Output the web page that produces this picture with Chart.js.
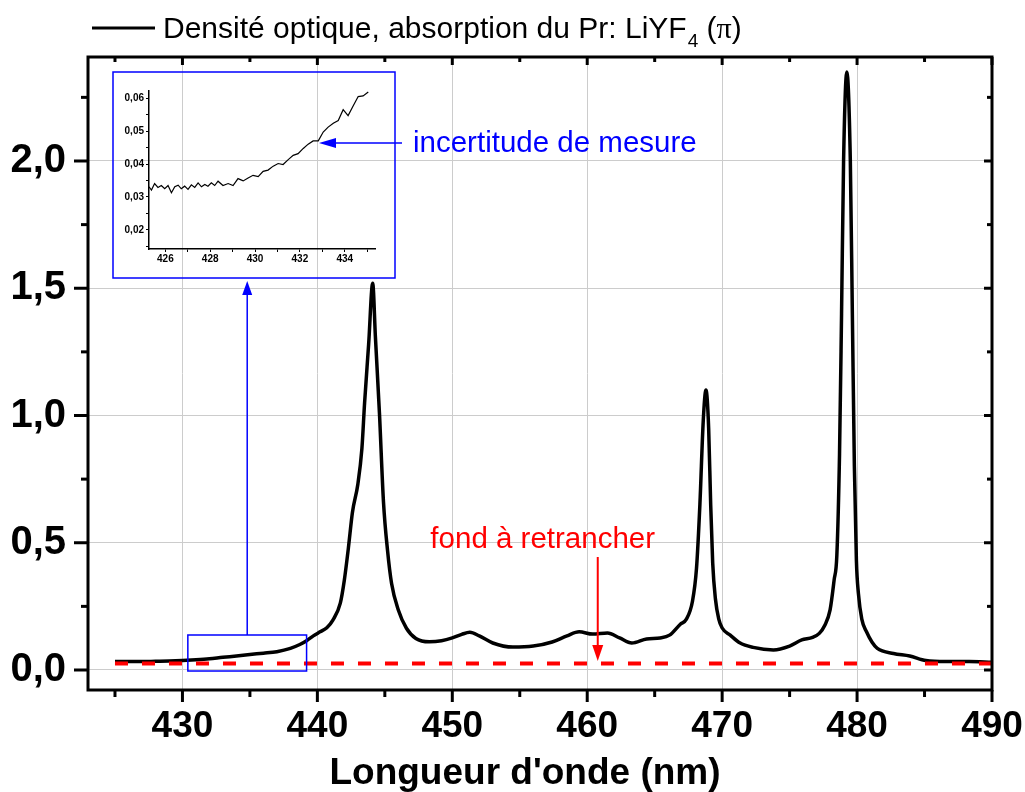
<!DOCTYPE html>
<html>
<head>
<meta charset="utf-8">
<script src="https://cdn.jsdelivr.net/npm/chart.js@4.4.0/dist/chart.umd.min.js"></script>
<style>
  html, body { margin: 0; padding: 0; background: #fff; }
  #wrap { position: relative; width: 1025px; height: 792px; }
  #main { position: absolute; left: 0; top: 0; }
  #insetCanvas { position: absolute; left: 113px; top: 72px; }
</style>
</head>
<body>
<div id="wrap">
  <canvas id="main" width="1025" height="792"></canvas>
  <canvas id="insetCanvas" width="282" height="206"></canvas>
</div>
<script>
// spectre principal (nm / densite optique)
const wavelength = [425.0, 426.0, 427.0, 428.0, 429.0, 430.0, 431.0, 432.0, 433.0, 434.0, 435.0, 436.0, 437.0, 438.0,
  438.7, 439.2, 439.7, 440.2, 440.7, 441.15, 441.7, 442.0, 442.3, 442.6, 443.0, 443.3, 443.5, 443.8, 444.1,
  444.3, 444.6, 444.9, 445.2, 445.5, 446.0, 446.6, 447.3, 448.3, 449.2, 450.0, 450.7, 451.3, 452.0, 453.0,
  454.5, 456.0, 457.4, 458.5, 459.4, 460.4, 461.5, 462.4, 463.3, 464.4, 465.4, 466.1, 466.9, 467.35, 467.8,
  468.1, 468.35, 468.6, 468.8, 469.0, 469.15, 469.3, 469.5, 469.75, 470.0, 470.6, 471.3, 472.3, 473.8, 475.0,
  475.9, 476.7, 477.2, 477.6, 478.0, 478.3, 478.5, 478.7, 478.85, 479.0, 479.24, 479.5, 479.65, 479.8, 479.95,
  480.1, 480.35, 480.7, 481.1, 481.5, 482.7, 483.9, 485.1, 486.6, 488.3, 490.0];
const density = [0.033, 0.033, 0.033, 0.034, 0.035, 0.037, 0.040, 0.044, 0.050, 0.055, 0.061, 0.066, 0.072, 0.085,
  0.100, 0.115, 0.134, 0.150, 0.166, 0.196, 0.263, 0.354, 0.480, 0.620, 0.730, 0.870, 1.050, 1.280, 1.520,
  1.310, 1.010, 0.660, 0.470, 0.340, 0.236, 0.164, 0.124, 0.111, 0.115, 0.126, 0.140, 0.148, 0.134, 0.106,
  0.090, 0.094, 0.110, 0.134, 0.150, 0.141, 0.145, 0.126, 0.106, 0.122, 0.126, 0.137, 0.180, 0.200, 0.270,
  0.400, 0.650, 0.980, 1.100, 0.950, 0.650, 0.420, 0.280, 0.200, 0.165, 0.137, 0.107, 0.089, 0.079, 0.094,
  0.118, 0.128, 0.144, 0.175, 0.236, 0.354, 0.450, 0.850, 1.400, 2.000, 2.350, 2.000, 1.400, 0.800, 0.430,
  0.300, 0.200, 0.150, 0.110, 0.085, 0.065, 0.055, 0.037, 0.033, 0.033, 0.030];

// fond a retrancher
const fondX = [425, 490];
const fondY = [0.026, 0.026];

const xTicks = [430, 440, 450, 460, 470, 480, 490];
const xMinor = [425, 435, 445, 455, 465, 475, 485];
const yTicks = [0, 0.5, 1.0, 1.5, 2.0];
const yMinor = [0.25, 0.75, 1.25, 1.75, 2.25];

// zoom (incertitude de mesure)
const insetWavelength = [425.27, 425.38, 425.52, 425.67, 425.82, 425.97, 426.12, 426.27, 426.42, 426.57, 426.71,
  426.86, 427.01, 427.16, 427.31, 427.46, 427.61, 427.76, 427.90, 428.05, 428.20, 428.35, 428.57, 428.80,
  429.02, 429.24, 429.47, 429.69, 429.91, 430.14, 430.36, 430.58, 430.81, 431.03, 431.25, 431.48, 431.70,
  431.92, 432.15, 432.37, 432.59, 432.82, 433.04, 433.26, 433.49, 433.71, 433.93, 434.15, 434.38, 434.60,
  434.82, 435.05];
const insetDensity = [0.0331, 0.0321, 0.0341, 0.0329, 0.0335, 0.0325, 0.0335, 0.0313, 0.0331, 0.0336, 0.0325,
  0.0333, 0.0323, 0.0337, 0.0329, 0.0343, 0.0331, 0.0338, 0.0333, 0.0343, 0.0335, 0.0348, 0.0335, 0.0341,
  0.0335, 0.0356, 0.0349, 0.0358, 0.0366, 0.0362, 0.0378, 0.0382, 0.0394, 0.0402, 0.0399, 0.0414, 0.0427,
  0.0432, 0.0448, 0.0461, 0.0471, 0.0471, 0.0498, 0.0513, 0.0525, 0.0533, 0.0566, 0.0548, 0.0578, 0.0606,
  0.0608, 0.0620];
const insetXTicks = [426, 428, 430, 432, 434];
const insetXMinor = [427, 429, 431, 433, 435];
const insetYTicks = [0.02, 0.03, 0.04, 0.05, 0.06];
const insetYMinor = [0.015, 0.025, 0.035, 0.045, 0.055];

const FONT = '"Liberation Sans", Arial, sans-serif';
const INSET = { left: 113, top: 72, w: 282, h: 206 };

const comma = (v, d) => v.toFixed(d).replace('.', ',');

function arrow(ctx, x1, y1, x2, y2, color, width, headLen, headHalf) {
  const a = Math.atan2(y2 - y1, x2 - x1);
  const bx = x2 - headLen * Math.cos(a), by = y2 - headLen * Math.sin(a);
  ctx.strokeStyle = color;
  ctx.fillStyle = color;
  ctx.lineWidth = width;
  ctx.beginPath();
  ctx.moveTo(x1, y1);
  ctx.lineTo(bx, by);
  ctx.stroke();
  ctx.beginPath();
  ctx.moveTo(x2, y2);
  ctx.lineTo(bx - headHalf * Math.sin(a), by + headHalf * Math.cos(a));
  ctx.lineTo(bx + headHalf * Math.sin(a), by - headHalf * Math.cos(a));
  ctx.closePath();
  ctx.fill();
}

const decor = {
  id: 'decor',
  afterDraw(chart) {
    const ctx = chart.ctx;
    const { left, right, top, bottom } = chart.chartArea;
    const sx = chart.scales.x, sy = chart.scales.y;
    ctx.save();

    // cadre + graduations
    ctx.strokeStyle = '#000';
    ctx.lineWidth = 3;
    ctx.strokeRect(left, top, right - left, bottom - top);
    const tick = (x1, y1, x2, y2) => { ctx.beginPath(); ctx.moveTo(x1, y1); ctx.lineTo(x2, y2); ctx.stroke(); };
    xTicks.forEach(v => { const p = sx.getPixelForValue(v); tick(p, bottom, p, bottom + 12); tick(p, top, p, top + 8); });
    xMinor.forEach(v => { const p = sx.getPixelForValue(v); tick(p, bottom, p, bottom + 7); tick(p, top, p, top + 5); });
    yTicks.forEach(v => { const p = sy.getPixelForValue(v); tick(left - 14, p, left, p); tick(right - 8, p, right, p); });
    yMinor.forEach(v => { const p = sy.getPixelForValue(v); tick(left - 7, p, left, p); tick(right - 5, p, right, p); });

    // titre axe x
    ctx.fillStyle = '#000';
    ctx.textAlign = 'center';
    ctx.textBaseline = 'middle';
    ctx.font = 'bold 37px ' + FONT;
    ctx.fillText("Longueur d'onde (nm)", 525, 774);

    // legende
    tick(92, 28, 155, 28);
    ctx.textBaseline = 'alphabetic';
    ctx.textAlign = 'left';
    ctx.font = '30px ' + FONT;
    const t1 = 'Densité optique, absorption du Pr: LiYF';
    ctx.fillText(t1, 163, 38);
    let lx = 163 + ctx.measureText(t1).width + 1;
    ctx.font = '19px ' + FONT;
    ctx.fillText('4', lx, 47);
    lx += ctx.measureText('4').width;
    ctx.font = '30px ' + FONT;
    ctx.fillText(' (', lx, 38);
    lx += ctx.measureText(' (').width;
    ctx.font = '30px "Liberation Serif", "Times New Roman", serif';
    ctx.fillText('π', lx, 38);
    lx += ctx.measureText('π').width;
    ctx.font = '30px ' + FONT;
    ctx.fillText(')', lx, 38);

    // encart + zone zoomee
    ctx.strokeStyle = '#0000ff';
    ctx.lineWidth = 1.5;
    ctx.strokeRect(INSET.left, INSET.top, INSET.w, INSET.h);
    const rx1 = sx.getPixelForValue(430.4), rx2 = sx.getPixelForValue(439.2);
    const ry1 = sy.getPixelForValue(0.1375), ry2 = sy.getPixelForValue(-0.004);
    ctx.strokeRect(rx1, ry1, rx2 - rx1, ry2 - ry1);
    const cx = (rx1 + rx2) / 2;
    arrow(ctx, cx, ry1, cx, INSET.top + INSET.h + 3, '#0000ff', 1.5, 14, 5);
    arrow(ctx, 402, 143, 319, 143, '#0000ff', 1.5, 17, 5);
    ctx.fillStyle = '#0000ff';
    ctx.font = '29.5px ' + FONT;
    ctx.fillText('incertitude de mesure', 413, 152);

    // fond
    const fx = sx.getPixelForValue(460.78);
    arrow(ctx, fx, sy.getPixelForValue(0.444), fx, sy.getPixelForValue(0.035), '#ff0000', 2, 16, 5.5);
    ctx.fillStyle = '#ff0000';
    ctx.textAlign = 'center';
    ctx.fillText('fond à retrancher', sx.getPixelForValue(456.7), sy.getPixelForValue(0.479));
    ctx.restore();
  }
};

new Chart(document.getElementById('main'), {
  type: 'line',
  data: {
    datasets: [{
      label: 'fond',
      data: fondX.map((x, i) => ({ x, y: fondY[i] })),
      borderColor: '#ff0000',
      borderWidth: 4,
      borderDash: [13, 14],
      pointRadius: 0,
      order: 0
    }, {
      label: 'Densité optique, absorption du Pr: LiYF4 (π)',
      data: wavelength.map((x, i) => ({ x, y: density[i] })),
      borderColor: '#000',
      borderWidth: 3.5,
      pointRadius: 0,
      cubicInterpolationMode: 'monotone',
      order: 1
    }]
  },
  options: {
    responsive: false,
    animation: false,
    devicePixelRatio: 1,
    layout: { padding: { top: 57, right: 33, left: 0, bottom: 0 } },
    plugins: { legend: { display: false }, tooltip: { enabled: false } },
    scales: {
      x: {
        type: 'linear', min: 423, max: 490,
        afterBuildTicks: s => { s.ticks = xTicks.map(v => ({ value: v })); },
        afterFit: s => { s.height = 102; s.paddingLeft = 0; s.paddingRight = 0; },
        grid: { color: '#cccccc', lineWidth: 1, drawTicks: false },
        border: { display: false },
        ticks: { color: '#000', font: { family: FONT, size: 37, weight: 'bold' }, padding: 15, maxRotation: 0, autoSkip: false }
      },
      y: {
        type: 'linear', min: -0.0786, max: 2.4086,
        afterBuildTicks: s => { s.ticks = yTicks.map(v => ({ value: v })); },
        afterFit: s => { s.width = 88; s.paddingTop = 0; s.paddingBottom = 0; },
        grid: { color: '#cccccc', lineWidth: 1, drawTicks: false },
        border: { display: false },
        ticks: { color: '#000', font: { family: FONT, size: 40, weight: 'bold' }, padding: 22, callback: v => comma(v, 1) }
      }
    }
  },
  plugins: [decor]
});

new Chart(document.getElementById('insetCanvas'), {
  type: 'line',
  data: {
    datasets: [{
      data: insetWavelength.map((x, i) => ({ x, y: insetDensity[i] })),
      borderColor: '#000',
      borderWidth: 1.2,
      pointRadius: 0
    }]
  },
  options: {
    responsive: false,
    animation: false,
    devicePixelRatio: 1,
    layout: { padding: { top: 19, right: 20, left: 0, bottom: 0 } },
    plugins: { legend: { display: false }, tooltip: { enabled: false } },
    scales: {
      x: {
        type: 'linear', min: 425.27, max: 435.35,
        afterBuildTicks: s => { s.ticks = insetXTicks.concat(insetXMinor).map(v => ({ value: v })); },
        afterFit: s => { s.height = 29; s.paddingLeft = 0; s.paddingRight = 0; },
        grid: { drawOnChartArea: false, drawTicks: true, tickLength: 3, color: '#000' },
        border: { display: true, color: '#000', width: 1.5 },
        ticks: { color: '#000', font: { family: FONT, size: 10, weight: 'bold' }, padding: 1, maxRotation: 0, autoSkip: false,
          callback: v => insetXTicks.includes(v) ? String(v) : '' }
      },
      y: {
        type: 'linear', min: 0.01415, max: 0.0623,
        afterBuildTicks: s => { s.ticks = insetYTicks.concat(insetYMinor).map(v => ({ value: v })); },
        afterFit: s => { s.width = 36; s.paddingTop = 0; s.paddingBottom = 0; },
        grid: { drawOnChartArea: false, drawTicks: true, tickLength: 3, color: '#000' },
        border: { display: true, color: '#000', width: 1.5 },
        ticks: { color: '#000', font: { family: FONT, size: 10, weight: 'bold' }, padding: 2, autoSkip: false,
          callback: v => insetYTicks.some(t => Math.abs(t - v) < 1e-9) ? comma(v, 2) : '' }
      }
    }
  }
});
</script>
</body>
</html>
